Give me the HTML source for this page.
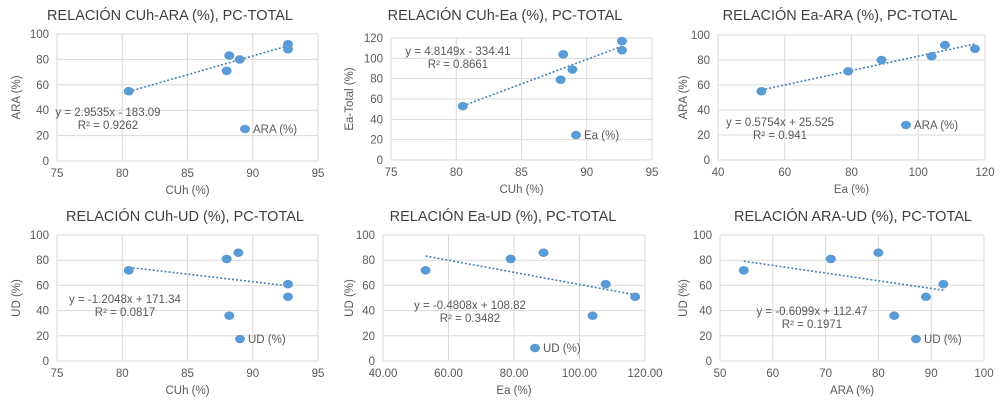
<!DOCTYPE html>
<html><head><meta charset="utf-8"><style>
body{margin:0;background:#fff;width:1000px;height:402px;overflow:hidden;font-family:"Liberation Sans",sans-serif}
svg text{font-family:"Liberation Sans",sans-serif}
</style></head><body>
<svg id="s" width="1000" height="402"></svg>
<script>
// Chart 1 CUh-ARA
const c1x=[80.5,88,88.2,89,92.7,92.7];
const c1y=[55,71,83,80,92,88];
// Chart 2 CUh-Ea
const c2x=[80.5,88,88.2,88.9,92.7,92.7];
const c2y=[53,79,104,89,117,108];
// Chart 3 Ea-ARA
const c3x=[53,79,89,104,108,117];
const c3y=[55,71,80,83,92,89];
// Chart 4 CUh-UD
const c4x=[80.5,88,88.9,92.7,92.7,88.2];
const c4y=[72,81,86,61,51,36];
// Chart 5 Ea-UD
const c5x=[53,79,89,104,108,117];
const c5y=[72,81,86,36,61,51];
// Chart 6 ARA-UD
const c6x=[54.5,71,80,83,89,92.3];
const c6y=[72,81,86,36,51,61];
const xt1=["75","80","85","90","95"], xt3=["40","60","80","100","120"];
const xt5=["40.00","60.00","80.00","100.00","120.00"], xt6=["50","60","70","80","90","100"];
const yt100=["0","20","40","60","80","100"], yt120=["0","20","40","60","80","100","120"];
const slopes=[2.9535,4.8149,0.5754,-1.2048,-0.4808,-0.6099];
const intercepts=[-183.09,-334.41,25.525,171.34,108.82,112.47];
const NS="http://www.w3.org/2000/svg",S=document.getElementById('s');
function el(t,a,txt){const e=document.createElementNS(NS,t);for(const k in a)e.setAttribute(k,a[k]);if(txt!=null)e.textContent=txt;S.appendChild(e);return e;}
const cfg=[
 {xs:c1x,ys:c1y,xt:xt1,yt:yt100,L:57,R:318,T:34,B:161,title:"RELACIÓN CUh-ARA (%), PC-TOTAL",tx:170,ty:20,xl:"CUh (%)",yl:"ARA (%)",ylx:16,eq:"y = 2.9535x - 183.09",r2:"R² = 0.9262",ex:108,ey:116,leg:"ARA (%)",lx:245,ly:129},
 {xs:c2x,ys:c2y,xt:xt1,yt:yt120,L:391,R:652,T:38,B:160,title:"RELACIÓN CUh-Ea (%), PC-TOTAL",tx:505,ty:20,xl:"CUh (%)",yl:"Ea-Total (%)",ylx:349,eq:"y = 4.8149x - 334.41",r2:"R² = 0.8661",ex:458,ey:55,leg:"Ea (%)",lx:576,ly:135},
 {xs:c3x,ys:c3y,xt:xt3,yt:yt100,L:718,R:985,T:35,B:160,title:"RELACIÓN Ea-ARA (%), PC-TOTAL",tx:840,ty:20,xl:"Ea (%)",yl:"ARA (%)",ylx:683,eq:"y = 0.5754x + 25.525",r2:"R² = 0.941",ex:780,ey:126,leg:"ARA (%)",lx:906,ly:125},
 {xs:c4x,ys:c4y,xt:xt1,yt:yt100,L:57,R:318,T:235,B:361,title:"RELACIÓN CUh-UD (%), PC-TOTAL",tx:185,ty:221,xl:"CUh (%)",yl:"UD (%)",ylx:16,eq:"y = -1.2048x + 171.34",r2:"R² = 0.0817",ex:125,ey:303,leg:"UD (%)",lx:240,ly:339},
 {xs:c5x,ys:c5y,xt:xt5,yt:yt100,L:383,R:645,T:235,B:361,title:"RELACIÓN Ea-UD (%), PC-TOTAL",tx:503,ty:221,xl:"Ea (%)",yl:"UD (%)",ylx:349,eq:"y = -0.4808x + 108.82",r2:"R² = 0.3482",ex:470,ey:309,leg:"UD (%)",lx:535,ly:348},
 {xs:c6x,ys:c6y,xt:xt6,yt:yt100,L:720,R:984,T:235,B:361,title:"RELACIÓN ARA-UD (%), PC-TOTAL",tx:853,ty:221,xl:"ARA (%)",yl:"UD (%)",ylx:683,eq:"y = -0.6099x + 112.47",r2:"R² = 0.1971",ex:812,ey:315,leg:"UD (%)",lx:916,ly:339}
];
cfg.forEach((c,i)=>{
 const x0=+c.xt[0],x1=+c.xt[c.xt.length-1],y1=+c.yt[c.yt.length-1];
 const sx=v=>c.L+(v-x0)/(x1-x0)*(c.R-c.L), sy=v=>c.B-v/y1*(c.B-c.T);
 const t=el('text',{x:c.tx,y:c.ty,'text-anchor':'middle','font-size':14.5,fill:'#404040'},c.title);
 
 c.yt.forEach(v=>{const y=sy(+v);
  const g=el('line',{x1:c.L,x2:c.R,y1:y,y2:y,stroke:'#d9d9d9','stroke-width':1});
  
  const l=el('text',{x:c.L-8,y:y+4,'text-anchor':'end','font-size':11.5,fill:'#595959'},v);
  });
 c.xt.forEach(v=>{const x=sx(+v);
  const g=el('line',{x1:x,x2:x,y1:c.T,y2:c.B,stroke:'#d9d9d9','stroke-width':1});
  
  const l=el('text',{x:x,y:c.B+16,'text-anchor':'middle','font-size':11.5,fill:'#595959'},v);
  });
 const xa=el('text',{x:(c.L+c.R)/2,y:c.B+33,'text-anchor':'middle','font-size':11.5,fill:'#595959'},c.xl);
 
 const ym=(c.T+c.B)/2;
 const ya=el('text',{x:c.ylx,y:ym,'text-anchor':'middle','font-size':11.5,fill:'#595959',transform:`rotate(-90 ${c.ylx} ${ym})`,dy:4},c.yl);
 
 const mn=Math.min(...c.xs),mx=Math.max(...c.xs),m=slopes[i],b=intercepts[i];
 const tl=el('line',{x1:sx(mn),y1:sy(m*mn+b),x2:sx(mx),y2:sy(m*mx+b),stroke:'#4a7ebb','stroke-width':1.6,'stroke-dasharray':'2,2'});
 
 c.xs.forEach((v,j)=>{const p=el('ellipse',{cx:sx(v),cy:sy(c.ys[j]),rx:5,ry:4.3,fill:'#5b9bd5'});
  });
 const e1=el('text',{x:c.ex,y:c.ey,'text-anchor':'middle','font-size':11.5,fill:'#595959'},c.eq);
 
 const e2=el('text',{x:c.ex,y:c.ey+13,'text-anchor':'middle','font-size':11.5,fill:'#595959'},c.r2);
 
 const lm=el('ellipse',{cx:c.lx,cy:c.ly,rx:5,ry:4.3,fill:'#5b9bd5'});
 
 const lt=el('text',{x:c.lx+8,y:c.ly+4,'font-size':11.5,fill:'#595959'},c.leg);
 
});
</script>
</body></html>
